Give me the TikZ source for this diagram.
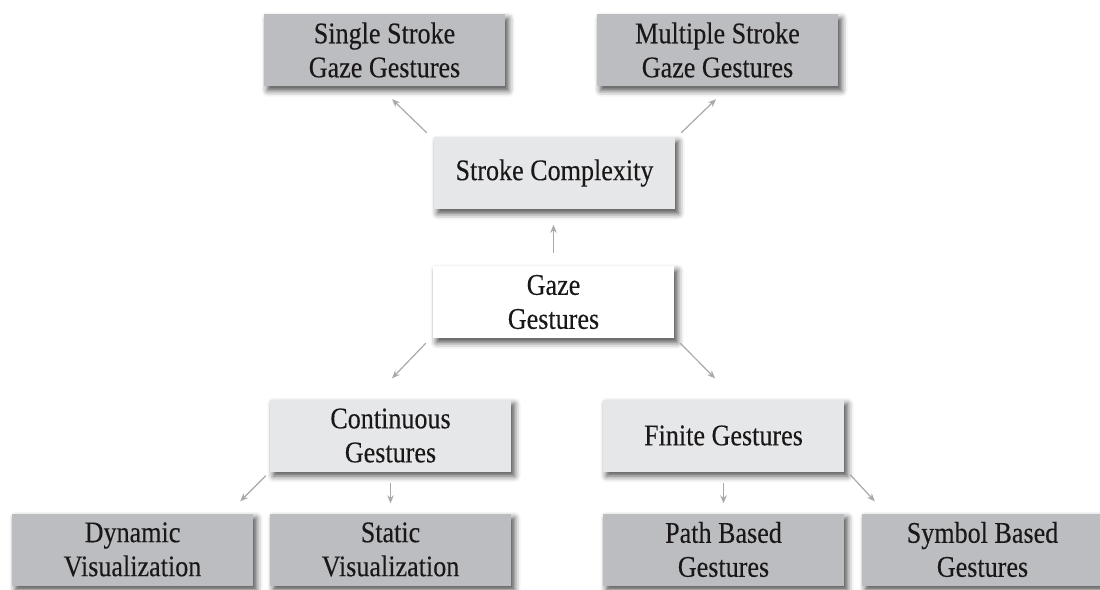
\documentclass[tikz,border=0pt]{standalone}
\usepackage{fontspec}
\setmainfont{Liberation Serif}[FakeStretch=0.87,FakeBold=0.2]
\usetikzlibrary{calc,arrows.meta,shadows.blur}
\definecolor{boxdark}{HTML}{BCBDC0}
\definecolor{boxlight}{HTML}{E6E7E8}
\definecolor{linkgray}{HTML}{A7A9AC}
\definecolor{inkc}{HTML}{1A1718}
\begin{document}
\begin{tikzpicture}[x=1pt,y=-1pt,
  box/.style={rectangle, inner sep=0pt, minimum width=241pt, minimum height=72pt,
    align=center, text=inkc, font=\fontsize{30}{34}\selectfont,
    blur shadow={shadow xshift=3.5pt, shadow yshift=-4.5pt, shadow blur radius=6pt, shadow opacity=70}},
  leaf/.style={box, fill=boxdark},
  mid/.style={box, fill=boxlight},
  root/.style={box, fill=white},
  arr/.style={draw=linkgray, line width=1.2pt, -{Stealth[length=8pt,width=6.5pt]}}]
\useasboundingbox (0,0) rectangle (1100,589);

% tree of gesture categories
\node[leaf] (single)   at (384.5,50)   {Single Stroke\\Gaze Gestures};
\node[leaf] (multiple) at (717.5,50)   {Multiple Stroke\\Gaze Gestures};
\node[mid]  (stroke)   at (554.5,173)  {Stroke Complexity};
\node[root] (gaze)     at (553.5,302)  {Gaze\\Gestures};
\node[mid]  (cont)     at (390.5,435.5){Continuous\\Gestures};
\node[mid]  (finite)   at (723.5,435.5){Finite Gestures};
\node[leaf] (dynamic)  at (132.5,549.5){Dynamic\\Visualization};
\node[leaf] (static)   at (390.5,549.5){Static\\Visualization};
\node[leaf] (path)     at (723.5,549.5){Path Based\\Gestures};
\node[leaf] (symbol)   at (982.5,549.5){Symbol Based\\Gestures};

% connectors
\draw[arr] ($(gaze.north)+(0,-13)$) -- ($(gaze.north)+(0,-41)$);
\draw[arr] ($(stroke.north west)+(-7,-4)$) -- ($(single.south)+(7.5,13)$);
\draw[arr] ($(stroke.north east)+(6,-4)$) -- ($(multiple.south)+(-1.5,13)$);
\draw[arr] ($(gaze.south west)+(-7,5)$) -- ($(cont.north)+(1.5,-21)$);
\draw[arr] ($(gaze.south east)+(6,5)$) -- ($(finite.north)+(-8.5,-21)$);
\draw[arr] ($(cont.south west)+(-4,4)$) -- ($(dynamic.north east)+(-13,-12)$);
\draw[arr] ($(cont.south)+(0,11)$) -- ($(static.north)+(0,-10)$);
\draw[arr] ($(finite.south)+(0,11)$) -- ($(path.north)+(0,-10)$);
\draw[arr] ($(finite.south east)+(6,3)$) -- ($(symbol.north west)+(13,-12)$);
\end{tikzpicture}
\end{document}
